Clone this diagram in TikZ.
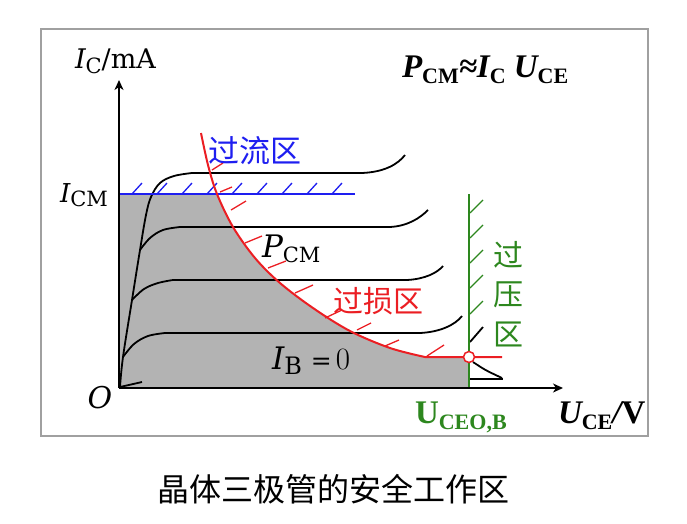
\documentclass[tikz,border=0pt]{standalone}
\usepackage{fontspec}
\newfontfamily\tnr{Liberation Serif}
\newfontfamily\dvs{DejaVu Serif}
\newfontfamily\cjk{Noto Sans CJK SC}
\usetikzlibrary{arrows.meta}
\definecolor{cred}{RGB}{235,30,35}
\definecolor{cblue}{RGB}{30,30,240}
\definecolor{cgreen}{RGB}{45,135,30}
\definecolor{cgray}{RGB}{179,179,179}
\definecolor{cframe}{RGB}{160,160,160}
\tikzset{
  axis/.style={line width=2pt,-{Stealth[length=10pt,width=9pt,inset=3pt]}},
  curve/.style={line width=1.8pt,black},
  hatch/.style={line width=1.3pt},
  lbl/.style={inner sep=0pt,outer sep=0pt},
}
\newcommand{\dsub}[3]{\raisebox{-#1}{\fontsize{#2}{#2}\selectfont\upshape #3}}
\newcommand{\bsub}[1]{\raisebox{-6pt}{\fontsize{22}{22}\selectfont\bfseries\upshape #1}}
\def\redcurve{plot[smooth,tension=0.55] coordinates {(201,133) (208,165) (217,194) (233,227) (255,258) (280,283) (313,308) (350,331) (390,348) (425,357)}}
\begin{document}
\begin{tikzpicture}[x=1pt,y=-1pt]
\useasboundingbox (0,0) rectangle (687,523);
% frame
\draw[cframe,line width=1.2pt] (41,29) rectangle (648,436);
% gray safe region
\begin{scope}
  \clip (119,194) rectangle (469,388);
  \fill[cgray] \redcurve -- (502,357) -- (502,388) -- (119,388) -- (119,120) -- cycle;
\end{scope}
% output characteristic curves
\draw[curve] plot[smooth,tension=0.6] coordinates {(120,387) (123,357) (132,300) (140,250) (146,215) (151,197) (160,183) (174,176) (192,173)} -- (362,173) .. controls (385,172) and (398,164) .. (405,155);
\draw[curve] plot[smooth,tension=0.6] coordinates {(140,250) (150,238) (163,230) (180,227)} -- (390,227) .. controls (408,226) and (420,218) .. (428,210);
\draw[curve] plot[smooth,tension=0.6] coordinates {(132,300) (144,289) (158,283) (173,280)} -- (407,280) .. controls (425,279) and (437,273) .. (443,266);
\draw[curve] plot[smooth,tension=0.6] coordinates {(123,357) (134,344) (148,336) (165,333)} -- (420,333) .. controls (440,332) and (455,325) .. (462,316);
\draw[curve] (120,387) -- (142,382);
\draw[curve] (470,342) -- (483,327);
\draw[curve] (473,362) .. controls (485,370) .. (502,378);
\draw[curve] (470,379) -- (503,379);
% blue I_CM line with hatching
\draw[cblue,line width=2pt] (119,194) -- (355,194);
\foreach \x in {132,157,...,332} \draw[cblue,hatch] (\x,194) -- ++(10,-11);
% red P_CM curve with hatching
\draw[cred,line width=2pt] \redcurve -- (502,357);
\foreach \a/\b/\c/\d in {212/170/223/163, 220/192/232/187, 231/210/246/201, 245/243/262/236, 268/268/286/261, 295/293/313/285, 325/318/342/310, 357/330/371/323, 385/346/399/340, 427/356/444/345}
  \draw[cred,hatch] (\a,\b) -- (\c,\d);
% green breakdown line with hatching
\draw[cgreen,line width=2pt] (469,194) -- (469,388);
\foreach \y in {213,238,263,288,314} \draw[cgreen,hatch] (470,\y) -- ++(13,-13);
% axes
\draw[axis] (119,388) -- (119,80);
\draw[axis] (119,388) -- (563,388);
% circle
\node[circle,draw=cred,fill=white,line width=1.5pt,minimum size=11pt,inner sep=0pt] (pt) at (469,357) {};
% labels
\node[lbl,anchor=base west] (ylab) at (75,68) {\dvs\fontsize{27}{30}\selectfont\itshape I\dsub{5pt}{21}{C}\upshape/mA};
\node[lbl,anchor=base west] (icm) at (60,202) {\dvs\fontsize{26}{30}\selectfont\itshape I\dsub{4pt}{21}{CM}};
\node[lbl] (orig) at (100,398) {\dvs\fontsize{30}{30}\selectfont\itshape O};
\node[lbl,anchor=base west] (pcm) at (262,257) {\dvs\fontsize{31}{30}\selectfont\itshape P\dsub{5pt}{21}{CM}};
\node[lbl,anchor=base west] (ib) at (272,369) {\dvs\fontsize{31}{30}\selectfont\itshape I\dsub{5pt}{24}{B}\hspace{9pt}{\upshape\fontsize{25}{25}\selectfont =}\hspace{4pt}{\rmfamily\upshape 0}};
\node[lbl,text=cblue] (over1) at (255,151) {\cjk\fontsize{31}{31}\selectfont 过流区};
\node[lbl,text=cred] (over2) at (378,301) {\cjk\fontsize{30}{30}\selectfont 过损区};
\node[lbl,text=cgreen] (v1) at (508,255) {\cjk\fontsize{30}{30}\selectfont 过};
\node[lbl,text=cgreen] (v2) at (508,295) {\cjk\fontsize{30}{30}\selectfont 压};
\node[lbl,text=cgreen] (v3) at (508,334) {\cjk\fontsize{30}{30}\selectfont 区};
\node[lbl,anchor=base west] (form) at (402,77) {\tnr\fontsize{33}{33}\selectfont\bfseries\itshape P\bsub{CM}≈I\bsub{C} U\bsub{CE}};
\node[lbl,anchor=base west,text=cgreen] (uceo) at (415,423) {\tnr\fontsize{33}{33}\selectfont\bfseries U\bsub{CEO,B}};
\node[lbl,anchor=base west] (xlab) at (558,423) {\tnr\fontsize{33}{33}\selectfont\bfseries\itshape U\bsub{CE}/\upshape V};
\node[lbl] (cap) at (333,489) {\cjk\fontsize{32}{32}\selectfont 晶体三极管的安全工作区};
\end{tikzpicture}
\end{document}
